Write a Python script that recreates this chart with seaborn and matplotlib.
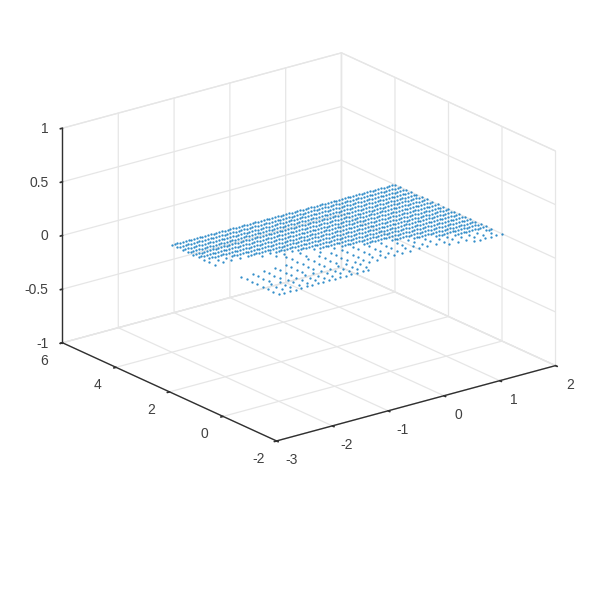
# Flat sheet of points over a 3D box, MATLAB look

import pandas as pd
import seaborn as sns
import matplotlib.pyplot as plt
from matplotlib.transforms import ScaledTranslation

# Axis ticks
x_ticks = [-3, -2, -1, 0, 1, 2]
y_ticks = [-2, 0, 2, 4, 6]
z_ticks = [-1, -0.5, 0, 0.5, 1]
z_labels = ['-1', '-0.5', '0', '0.5', '1']

# Grid columns of the sheet
x_cols = [-2.00, -1.95, -1.90, -1.85, -1.80, -1.75, -1.70, -1.65, -1.60, -1.55,
          -1.50, -1.45, -1.40, -1.35, -1.30, -1.25, -1.20, -1.15, -1.10, -1.05,
          -1.00, -0.95, -0.90, -0.85, -0.80, -0.75, -0.70, -0.65, -0.60, -0.55,
          -0.50, -0.45, -0.40, -0.35, -0.30, -0.25, -0.20, -0.15, -0.10, -0.05,
          0.00, 0.05, 0.10, 0.15, 0.20, 0.25, 0.30, 0.35, 0.40, 0.45,
          0.50, 0.55, 0.60, 0.65, 0.70, 0.75, 0.80, 0.85, 0.90, 0.95,
          1.00, 1.05, 1.10, 1.15, 1.20, 1.25, 1.30, 1.35, 1.40, 1.45,
          1.50, 1.55, 1.60, 1.65, 1.70, 1.75, 1.80, 1.85, 1.90, 1.95, 2.00]

# One entry per row of the sheet, back to front
row_y = [4.0, 3.8, 3.6, 3.4, 3.2, 3.0, 2.8, 2.6, 2.4, 2.2, 2.0,
         1.8, 1.6, 1.4, 1.2, 1.0, 0.8, 0.6, 0.4, 0.2, 0.0]
dense_from = [-2, -2, -2, -2, -2, -2, -1.9, -1.6, -1.4, -1.0, -0.7,
              -0.4, -0.1, 0.2, 0.6, 0.9, 1.2, 1.5, 1.9, 2.1, 2.1]
sparse_step = [1, 1, 1, 1, 1, 1, 3, 3, 3, 3, 3,
               5, 5, 4, 4, 4, 4, 3, 3, 3, 2]
gap_lo = [9, 9, 9, 9, 9, 9, 9, 9, 9, -2.1, -2.1,
          -2.1, -2.1, 9, 9, 9, 9, 9, 9, -0.3, -0.3]
gap_hi = [9, 9, 9, 9, 9, 9, 9, 9, 9, -1.3, -1.2,
          -1.2, -1.1, 9, 9, 9, 9, 9, 9, 1.0, 1.4]
sheet_z = 0

# Collect the points row by row
xs, ys = [], []
for i, y in enumerate(row_y):
    for j, x in enumerate(x_cols):
        if gap_lo[i] <= x <= gap_hi[i]:
            continue
        if x >= dense_from[i] or j % sparse_step[i] == 0:
            xs.append(x)
            ys.append(y)
df = pd.DataFrame({'x': xs, 'y': ys, 'z': sheet_z})

sns.set_theme(style='white')
plt.rcParams['font.family'] = ['Liberation Sans', 'DejaVu Sans']
plt.rcParams['axes.unicode_minus'] = False
dot_color = sns.color_palette(['#0072BD'])[0]

fig = plt.figure(figsize=(6, 6), dpi=100)
ax = fig.add_axes([0.0015, 0.075, 1, 1], projection='3d', proj_type='ortho')
ax.view_init(elev=20.6, azim=-127.5)
ax.set_box_aspect((1, 1, 0.652), zoom=0.886)

ax.scatter(df['x'], df['y'], df['z'], s=2.8, color=dot_color, linewidth=0,
           alpha=0.8, depthshade=False)

ax.set_xlim(-3, 2)
ax.set_ylim(-2, 6)
ax.set_zlim(-1, 1)
ax.set_xticks(x_ticks)
ax.set_yticks(y_ticks)
ax.set_zticks(z_ticks)
ax.set_zticklabels(z_labels)

# Light grid and panes, dark axis lines
for axis in [ax.xaxis, ax.yaxis, ax.zaxis]:
    axis.set_pane_color((1, 1, 1, 1))
    axis.pane.set_edgecolor('#e6e6e6')
    axis.pane.set_linewidth(0.9)
    axis.line.set_color('#303030')
    axis.line.set_linewidth(1.0)
    axis._axinfo['grid'].update(color='#e6e6e6', linewidth=0.9)
    axis._axinfo['tick'].update(inward_factor=0.1, outward_factor=0.0)
ax.tick_params(axis='both', labelsize=10, labelcolor='#404040', color='#303030', pad=2)
ax.tick_params(axis='z', labelsize=10, labelcolor='#404040', color='#303030', pad=2)


# Axis3D resets tick transforms on every draw, so wrap get_major_ticks
# to move the labels by some pixels (figure is 100 dpi)
def nudge(axis, dx, dy):
    shift = ScaledTranslation(dx / 100, dy / 100, fig.dpi_scale_trans)
    base = axis.get_major_ticks

    def get_major_ticks(numticks=None):
        ticks = base(numticks)
        for t in ticks:
            t.label1.set_transform(ax.transData + shift)
        return ticks
    axis.get_major_ticks = get_major_ticks


nudge(ax.xaxis, 5, 2)
nudge(ax.yaxis, -6, 2)
nudge(ax.zaxis, 8, 5)
for t in ax.zaxis.get_ticklabels():
    t.set_ha('right')

fig.savefig('out.png', dpi=100)
